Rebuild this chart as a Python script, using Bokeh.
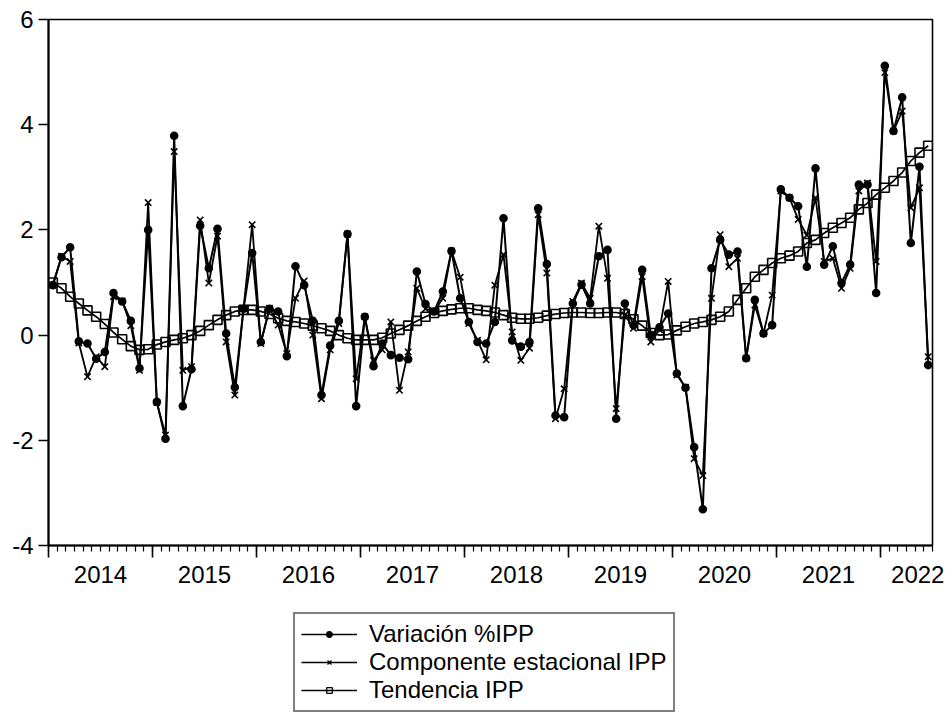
from bokeh.plotting import figure
from bokeh.models import Range1d, FixedTicker, LinearAxis, Legend, LegendItem
from bokeh.layouts import column
from bokeh.embed import file_html
from bokeh.resources import INLINE

# ---- data (monthly, 2014M01 - 2022M06) ----
years = ["2014", "2015", "2016", "2017", "2018", "2019", "2020", "2021", "2022"]

var_ipp = [
    0.95, 1.48, 1.67, -0.12, -0.16, -0.45, -0.32, 0.80, 0.64, 0.27, -0.63, 2.00,
    -1.27, -1.97, 3.79, -1.35, -0.65, 2.08, 1.27, 2.02, 0.03, -0.99, 0.50, 1.56,
    -0.13, 0.50, 0.45, -0.40, 1.31, 0.95, 0.27, -1.14, -0.20, 0.27, 1.92, -1.35,
    0.35, -0.59, -0.16, -0.38, -0.43, -0.46, 1.21, 0.59, 0.45, 0.83, 1.60, 0.70,
    0.25, -0.13, -0.16, 0.25, 2.22, -0.10, -0.22, -0.13, 2.41, 1.35, -1.53, -1.56,
    0.60, 0.96, 0.60, 1.50, 1.62, -1.59, 0.60, 0.19, 1.24, 0.00, 0.15, 0.41,
    -0.73, -1.00, -2.13, -3.31, 1.27, 1.81, 1.53, 1.59, -0.44, 0.67, 0.03, 0.19,
    2.77, 2.61, 2.45, 1.30, 3.17, 1.34, 1.69, 0.99, 1.34, 2.86, 2.86, 0.80,
    5.12, 3.88, 4.52, 1.75, 3.20, -0.57,
]

estacional_ipp = [
    0.95, 1.50, 1.40, -0.15, -0.79, -0.41, -0.60, 0.73, 0.65, 0.18, -0.67, 2.52,
    -1.28, -1.90, 3.49, -0.67, -0.60, 2.19, 0.99, 1.88, -0.13, -1.14, 0.50, 2.10,
    -0.16, 0.51, 0.19, -0.35, 0.70, 1.03, 0.00, -1.21, -0.28, 0.22, 1.92, -0.83,
    0.35, -0.48, -0.28, 0.25, -1.05, -0.32, 0.89, 0.50, 0.45, 0.70, 1.60, 1.10,
    0.22, -0.10, -0.47, 0.95, 1.53, 0.06, -0.48, -0.25, 2.29, 1.18, -1.59, -1.02,
    0.64, 0.99, 0.70, 2.07, 1.08, -1.40, 0.38, 0.13, 1.11, -0.13, 0.10, 1.02,
    -0.76, -0.99, -2.35, -2.67, 0.70, 1.91, 1.30, 1.46, -0.44, 0.57, 0.03, 0.76,
    2.74, 2.61, 2.20, 1.90, 2.61, 1.40, 1.46, 0.89, 1.27, 2.74, 2.89, 1.40,
    4.99, 3.88, 4.26, 2.42, 2.80, -0.41,
]

tendencia_ipp = [
    1.00, 0.89, 0.73, 0.60, 0.47, 0.35, 0.21, 0.05, -0.08, -0.21, -0.28, -0.27,
    -0.18, -0.13, -0.09, -0.06, 0.00, 0.08, 0.19, 0.29, 0.38, 0.45, 0.48, 0.48,
    0.45, 0.40, 0.32, 0.27, 0.25, 0.22, 0.18, 0.13, 0.08, 0.00, -0.06, -0.09,
    -0.09, -0.09, -0.05, 0.03, 0.10, 0.18, 0.27, 0.35, 0.42, 0.46, 0.49, 0.51,
    0.51, 0.48, 0.46, 0.43, 0.38, 0.33, 0.31, 0.31, 0.33, 0.37, 0.40, 0.42,
    0.43, 0.43, 0.42, 0.42, 0.43, 0.43, 0.40, 0.30, 0.18, 0.04, 0.00, 0.01,
    0.09, 0.16, 0.22, 0.25, 0.29, 0.35, 0.45, 0.67, 0.89, 1.11, 1.24, 1.37,
    1.46, 1.51, 1.59, 1.75, 1.81, 1.94, 2.04, 2.13, 2.23, 2.39, 2.51, 2.67,
    2.80, 2.93, 3.09, 3.31, 3.47, 3.60,
]

y_ticks = [-4, -2, 0, 2, 4, 6]
y_tick_labels = ["-4", "-2", "0", "2", "4", "6"]
series_labels = ["Variación %IPP", "Componente estacional IPP", "Tendencia IPP"]

n = len(var_ipp)
x = [i + 0.5 for i in range(n)]          # observation at the middle of its month
FONT = "Liberation Sans"

p = figure(width=948, height=600, output_backend="svg", toolbar_location=None,
           x_range=Range1d(0, n), y_range=Range1d(-4, 6),
           x_axis_type=None,
           min_border_left=48, min_border_right=16, min_border_top=19,
           min_border_bottom=55)
p.grid.visible = False
p.outline_line_color = "black"
p.outline_line_width = 1.6
p.background_fill_color = "white"
p.border_fill_color = "white"

# y axis
ya = p.yaxis[0]
ya.ticker = FixedTicker(ticks=y_ticks)
ya.major_label_overrides = {t: s for t, s in zip(y_ticks, y_tick_labels)}
ya.minor_tick_line_color = None
ya.major_tick_out = 10
ya.major_tick_in = 0
ya.major_tick_line_width = 1.6
ya.axis_line_width = 2
ya.major_label_standoff = 5
ya.major_label_text_font = FONT
ya.major_label_text_font_size = "24px"
ya.major_label_text_color = "black"

# x axis 1: year boundaries (long ticks) + monthly minor ticks, labels empty
year_bounds = [12 * k for k in range(len(years))]
ax1 = LinearAxis(ticker=FixedTicker(ticks=year_bounds, minor_ticks=list(range(0, n + 1))),
                 major_label_overrides={b: "" for b in year_bounds},
                 major_tick_out=12, major_tick_in=0, minor_tick_out=6, minor_tick_in=0,
                 major_tick_line_width=1.6, minor_tick_line_width=1.2,
                 axis_line_width=2, major_label_text_color=None,
                 major_label_text_font_size="11px", major_label_standoff=0)
p.add_layout(ax1, "below")

# x axis 2: year labels centred in each year
label_pos = [12 * k + 6 for k in range(len(years) - 1)] + [100.3]
ax2 = LinearAxis(ticker=FixedTicker(ticks=label_pos),
                 major_label_overrides={pos: yr for pos, yr in zip(label_pos, years)},
                 axis_line_color=None, major_tick_line_color=None,
                 minor_tick_line_color=None, major_tick_out=0, major_tick_in=0,
                 minor_tick_out=0, minor_tick_in=0,
                 major_label_standoff=8, major_label_text_font=FONT,
                 major_label_text_font_size="24px", major_label_text_color="black")
p.add_layout(ax2, "below")

# series styles
sty = [
    dict(lw=2.0, marker="circle", size=7, fill="black"),
    dict(lw=1.8, marker="x", size=9, fill=None),
    dict(lw=1.7, marker="square", size=9, fill=None),
]
series = [var_ipp, estacional_ipp, tendencia_ipp]

for ys, st in zip(series, sty):
    p.line(x, ys, line_color="black", line_width=st["lw"])
    p.scatter(x, ys, marker=st["marker"], size=st["size"], fill_color=st["fill"],
              line_color="black", line_width=1.6)

# legend lives in a second (axis-less) figure below the chart; its renderers
# hold the same series but its y range is set so that they are not in view
p2 = figure(width=948, height=120, output_backend="svg", toolbar_location=None,
            x_range=Range1d(0, n), y_range=Range1d(100, 101),
            x_axis_type=None, y_axis_type=None, min_border=0)
p2.grid.visible = False
p2.outline_line_color = None
p2.background_fill_color = "white"
p2.border_fill_color = "white"

items = []
for ys, st, lab in zip(series, sty, series_labels):
    g = p2.line(x, ys, line_color="black", line_width=1.6)
    h = p2.scatter(x, ys, marker=st["marker"], size=6, fill_color=st["fill"],
                   line_color="black", line_width=1.3)
    items.append(LegendItem(label=lab, renderers=[g, h]))

legend = Legend(items=items, location=(245, 8), orientation="vertical",
                border_line_color="black", border_line_width=2,
                background_fill_color="white",
                label_text_font=FONT, label_text_font_size="24px",
                label_text_color="black",
                glyph_width=56, glyph_height=14, label_standoff=12,
                padding=6, spacing=0, margin=0)
p2.add_layout(legend, "center")

layout = column(p, p2, spacing=0)
open("out.html", "w").write(file_html(layout, INLINE))
